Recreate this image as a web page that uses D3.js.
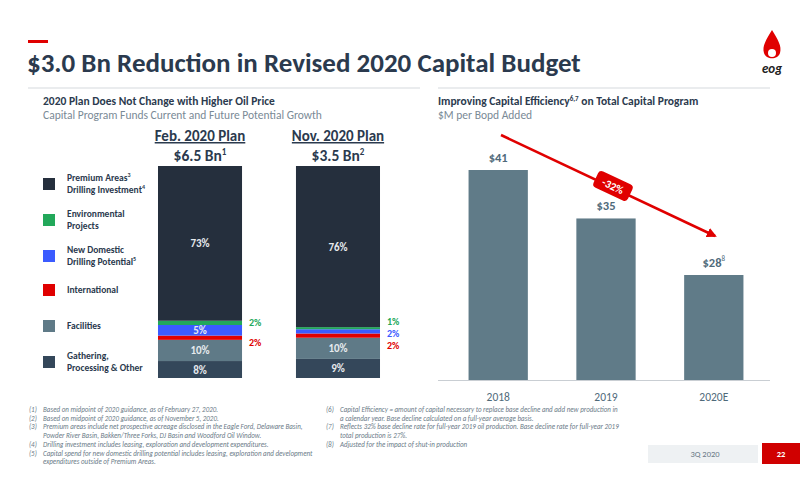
<!DOCTYPE html>
<html><head><meta charset="utf-8">
<script src="https://cdn.jsdelivr.net/npm/d3@7"></script>
<style>body{margin:0;background:#fff}svg{font-family:Calibri,Carlito,"Open Sans",sans-serif}</style>
</head><body><svg id="c" width="800" height="486"></svg>
<script>
const segNames = ["Gathering, Processing & Other","Facilities","International","New Domestic Drilling Potential","Environmental Projects","Premium Areas Drilling Investment"];
const segColors = ["#34475a","#5f7a87","#e00000","#3b5bff","#22a85a","#252f3d"];
const plans = ["Feb. 2020 Plan","Nov. 2020 Plan"];
const planTotals = ["$6.5 Bn","$3.5 Bn"];
const planSup = ["1","2"];
const febShares = [8,10,2,5,2,73];
const novShares = [9,10,2,2,1,76];
const effYears = ["2018","2019","2020E"];
const effValues = [41,35,28];
const effLabels = ["$41","$35","$28"];

const svg = d3.select("#c");
const navy="#2b3a4e", grey="#7a8a96";
svg.append("rect").attr("x",28).attr("y",40).attr("width",20).attr("height",3).attr("fill","#e00000");
svg.append("text").attr("x",27).attr("y",72).attr("font-size",27).attr("font-weight","bold").attr("fill",navy).text("$3.0 Bn Reduction in Revised 2020 Capital Budget");
const lg=svg.append("g");
lg.append("path").attr("d","M772,30 C766,40 762,46 764,53 C766,60 778,60 780,53 C782,46 778,40 772,30 Z").attr("fill","#e00000");
lg.append("circle").attr("cx",772).attr("cy",53).attr("r",4).attr("fill","#fff");
lg.append("text").attr("x",772).attr("y",73).attr("text-anchor","middle").attr("font-size",13).attr("font-weight","bold").attr("font-style","italic").attr("fill","#222").text("eog");
svg.append("line").attr("x1",28).attr("x2",420).attr("y1",88).attr("y2",88).attr("stroke","#d5d9dd");
svg.append("line").attr("x1",438).attr("x2",770).attr("y1",88).attr("y2",88).attr("stroke","#d5d9dd");

svg.append("text").attr("x",43).attr("y",105).attr("font-size",11.5).attr("font-weight","bold").attr("fill",navy).text("2020 Plan Does Not Change with Higher Oil Price");
svg.append("text").attr("x",43).attr("y",119).attr("font-size",11.5).attr("fill",grey).text("Capital Program Funds Current and Future Potential Growth");

const xPlan = d3.scaleBand().domain(plans).range([144.2,393.8]).paddingInner(0.391).paddingOuter(0.1);
const yPct = d3.scaleLinear().domain([0,100]).range([378,166]);
[febShares,novShares].forEach((shares,pi)=>{
  const x0=xPlan(plans[pi]), w=xPlan.bandwidth(), cx=x0+w/2;
  svg.append("text").attr("x",cx).attr("y",141).attr("text-anchor","middle").attr("font-size",15).attr("font-weight","bold").attr("fill",navy).attr("text-decoration","underline").text(plans[pi]);
  const t2=svg.append("text").attr("x",cx).attr("y",161).attr("text-anchor","middle").attr("font-size",15.5).attr("font-weight","bold").attr("fill",navy);
  t2.append("tspan").text(planTotals[pi]);
  t2.append("tspan").attr("font-size",9).attr("dy",-6).text(planSup[pi]);
  let acc=0;
  shares.forEach((s,i)=>{
    const y1=yPct(acc), y2=yPct(acc+s);
    svg.append("rect").attr("x",x0).attr("y",y2).attr("width",w).attr("height",y1-y2).attr("fill",segColors[i]);
    acc+=s;
  });
});
function inLabel(pi,idx,shares){
  const x0=xPlan(plans[pi]),w=xPlan.bandwidth();
  const a=d3.sum(shares.slice(0,idx)); const m=yPct(a+shares[idx]/2);
  svg.append("text").attr("x",x0+w/2).attr("y",m+4).attr("text-anchor","middle").attr("font-size",11).attr("font-weight","bold").attr("fill","#e6eaee").text(shares[idx]+"%");
}
[0,1].forEach(pi=>{const sh=pi?novShares:febShares;[0,1,5].forEach(i=>inLabel(pi,i,sh));});
inLabel(0,3,febShares);
function outLabel(pi,val,y,col){
  const x0=xPlan(plans[pi])+xPlan.bandwidth();
  svg.append("text").attr("x",x0+7).attr("y",y).attr("font-size",10).attr("font-weight","bold").attr("fill",col).text(val+"%");
}
outLabel(0,febShares[4],326,"#22a85a");outLabel(0,febShares[2],346,"#e00000");
outLabel(1,novShares[4],325,"#22a85a");outLabel(1,novShares[3],337,"#3b5bff");outLabel(1,novShares[2],349,"#e00000");
const legY=[184,220,256,290,326,362];
const legLines=[["Premium Areas","Drilling Investment"],["Environmental","Projects"],["New Domestic","Drilling Potential"],["International"],["Facilities"],["Gathering,","Processing & Other"]];
const legSups=[["3","4"],["",""],["","5"],[""],[""],["",""]];
[5,4,3,2,1,0].forEach((si,k)=>{
  svg.append("rect").attr("x",43).attr("y",legY[k]-6).attr("width",12).attr("height",12).attr("fill",segColors[si]);
  const lines=legLines[k];
  lines.forEach((ln,j)=>{
    const t=svg.append("text").attr("x",67).attr("y",legY[k]+(lines.length==1?3:(j==0?-3:9))).attr("font-size",9.5).attr("font-weight","bold").attr("fill",navy);
    t.append("tspan").text(ln);
    if(legSups[k][j]) t.append("tspan").attr("font-size",6).attr("dy",-4).text(legSups[k][j]);
  });
});

const t3=svg.append("text").attr("x",438).attr("y",105).attr("font-size",11.5).attr("font-weight","bold").attr("fill",navy);
t3.append("tspan").text("Improving Capital Efficiency");t3.append("tspan").attr("font-size",7).attr("dy",-4).text("6,7");t3.append("tspan").attr("dy",4).text(" on Total Capital Program");
svg.append("text").attr("x",438).attr("y",119).attr("font-size",11.5).attr("fill",grey).text("$M per Bopd Added");
const xE=d3.scaleBand().domain(effYears).range([447,765]).paddingInner(0.45).paddingOuter(0.2);
const yE=d3.scaleLinear().domain([15,41]).range([380,170]);
effValues.forEach((v,i)=>{
  const x=xE(effYears[i]),w=xE.bandwidth();
  svg.append("rect").attr("x",x).attr("y",yE(v)).attr("width",w).attr("height",380-yE(v)).attr("fill","#607b88");
  const t=svg.append("text").attr("x",x+w/2).attr("y",yE(v)-8).attr("text-anchor","middle").attr("font-size",12.5).attr("font-weight","bold").attr("fill","#4f6a7a").text(effLabels[i]);
  if(i==2) t.append("tspan").attr("font-size",7).attr("dy",-6).attr("font-weight","normal").text("8");
});
svg.append("line").attr("x1",438).attr("x2",770).attr("y1",380.5).attr("y2",380.5).attr("stroke","#c9ced3");
svg.append("g").attr("transform","translate(0,380)").call(d3.axisBottom(xE).tickSize(0).tickPadding(13))
  .call(g=>{g.select(".domain").remove();g.selectAll("text").attr("font-size",11.5).attr("fill","#4f6a7a").attr("font-family","Calibri,Carlito,'Open Sans',sans-serif");});
svg.append("defs").append("marker").attr("id","ah").attr("viewBox","0 0 10 10").attr("refX",8).attr("refY",5).attr("markerWidth",4).attr("markerHeight",4).attr("orient","auto").append("path").attr("d","M0,0L10,5L0,10Z").attr("fill","#e00000");
svg.append("line").attr("x1",501).attr("y1",135).attr("x2",715).attr("y2",236).attr("stroke","#e00000").attr("stroke-width",2.5).attr("marker-end","url(#ah)");
const bg=svg.append("g").attr("transform","translate(613,186) rotate(25)");
bg.append("rect").attr("x",-19).attr("y",-9).attr("width",38).attr("height",18).attr("rx",4).attr("fill","#e00000");
bg.append("text").attr("y",4).attr("text-anchor","middle").attr("font-size",11).attr("font-weight","bold").attr("fill","#fff").text("-32%");

const fnL=[["(1)","Based on midpoint of 2020 guidance, as of February 27, 2020."],["(2)","Based on midpoint of 2020 guidance, as of November 5, 2020."],["(3)","Premium areas include net prospective acreage disclosed in the Eagle Ford, Delaware Basin,"],["","Powder River Basin, Bakken/Three Forks, DJ Basin and Woodford Oil Window."],["(4)","Drilling investment includes leasing, exploration and development expenditures."],["(5)","Capital spend for new domestic drilling potential includes leasing, exploration and development"],["","expenditures outside of Premium Areas."]];
const fnR=[["(6)","Capital Efficiency = amount of capital necessary to replace base decline and add new production in"],["","a calendar year.  Base decline calculated on a full-year average basis."],["(7)","Reflects 32% base decline rate for full-year 2019 oil production. Base decline rate for full-year 2019"],["","total production is 27%."],["(8)","Adjusted for the impact of shut-in production"]];
function fn(list,x){list.forEach((r,i)=>{const y=412+i*8.7;
  svg.append("text").attr("x",x).attr("y",y).attr("font-size",7).attr("font-style","italic").attr("fill","#6b7b88").text(r[0]);
  svg.append("text").attr("x",x+14).attr("y",y).attr("font-size",7).attr("font-style","italic").attr("fill","#6b7b88").text(r[1]);});}
fn(fnL,29);fn(fnR,326);
svg.append("rect").attr("x",648).attr("y",445).attr("width",110).attr("height",18).attr("fill","#eef1f3");
svg.append("text").attr("x",705).attr("y",457).attr("text-anchor","middle").attr("font-size",8.5).attr("fill","#6b7b88").text("3Q 2020");
svg.append("rect").attr("x",762).attr("y",443).attr("width",38).attr("height",21).attr("fill","#d00000");
svg.append("text").attr("x",781).attr("y",457).attr("text-anchor","middle").attr("font-size",8.5).attr("font-weight","bold").attr("fill","#fff").text("22");
</script></body></html>
